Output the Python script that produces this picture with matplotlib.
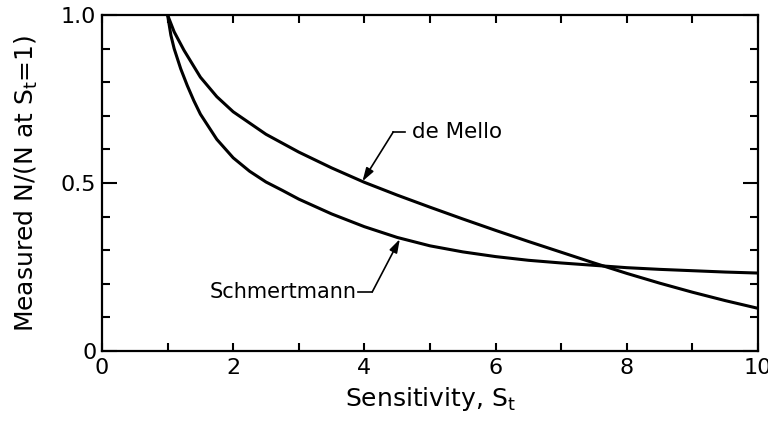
import numpy as np
import matplotlib.pyplot as plt
from matplotlib.ticker import MultipleLocator, FixedLocator

# values
s_mello = [1.0, 1.1, 1.25, 1.5, 1.75, 2.0, 2.5, 3.0, 3.5, 4.0, 4.5, 5.0,
           5.5, 6.0, 6.5, 7.0, 7.5, 8.0, 8.5, 9.0, 9.5, 10.0]
n_mello = [1.0, 0.95, 0.895, 0.815, 0.757, 0.712, 0.645, 0.592, 0.545, 0.502,
           0.464, 0.428, 0.393, 0.359, 0.326, 0.294, 0.262, 0.231, 0.202,
           0.175, 0.15, 0.127]

s_schm = [1.0, 1.05, 1.1, 1.2, 1.3, 1.4, 1.5, 1.75, 2.0, 2.25, 2.5, 2.75, 3.0,
          3.5, 4.0, 4.5, 5.0, 5.5, 6.0, 6.5, 7.0, 7.5, 8.0, 8.5, 9.0, 9.5, 10.0]
n_schm = [1.0, 0.94, 0.9, 0.84, 0.79, 0.745, 0.705, 0.63, 0.575, 0.535, 0.503,
          0.478, 0.452, 0.408, 0.37, 0.338, 0.313, 0.295, 0.281, 0.27, 0.262,
          0.255, 0.248, 0.243, 0.239, 0.235, 0.232]

x_ticks = [0, 2, 4, 6, 8, 10]
y_ticks = [0, 0.5, 1.0]
y_ticklabels = ['0', '0.5', '1.0']

plt.rcParams['font.family'] = ['DejaVu Sans']

fig = plt.figure(figsize=(7.68, 4.23), dpi=100)
ax = fig.add_axes([0.1328, 0.1702, 0.9870 - 0.1328, 0.9645 - 0.1702])

ax.plot(s_mello, n_mello, color='black', lw=2.2, solid_capstyle='round', solid_joinstyle='round')
ax.plot(s_schm, n_schm, color='black', lw=2.2, solid_capstyle='round', solid_joinstyle='round')

ax.set_xlim(0, 10)
ax.set_ylim(0, 1.0)

ax.xaxis.set_major_locator(FixedLocator(x_ticks))
ax.xaxis.set_minor_locator(MultipleLocator(1))
ax.yaxis.set_major_locator(FixedLocator(y_ticks))
ax.yaxis.set_minor_locator(MultipleLocator(0.1))
ax.set_yticklabels(y_ticklabels)

ax.tick_params(axis='x', which='both', direction='in', top=True, length=6, width=1.5,
               labelsize=16, pad=5)
ax.tick_params(axis='y', which='major', direction='in', right=True, length=11, width=1.5,
               labelsize=16, pad=4)
ax.tick_params(axis='y', which='minor', direction='in', right=True, length=6, width=1.5)
for sp in ax.spines.values():
    sp.set_linewidth(1.6)

ax.set_xlabel('Sensitivity, S$_\\mathregular{t}$', fontsize=18, labelpad=5)
ax.set_ylabel('Measured N/(N at S$_\\mathregular{t}$=1)', fontsize=18)
ax.yaxis.set_label_coords(-0.094, 0.5)

# de Mello label with leader
ax.text(4.72, 0.652, 'de Mello', fontsize=15.5, va='center', ha='left')
ax.plot([4.62, 4.44], [0.652, 0.652], color='black', lw=1.2)
ax.annotate('', xy=(3.97, 0.505), xytext=(4.44, 0.652),
            arrowprops=dict(arrowstyle='-|>,head_length=0.8,head_width=0.25',
                            color='black', lw=1.2, shrinkA=0, shrinkB=0))

# Schmertmann label with leader
ax.text(3.88, 0.176, 'Schmertmann', fontsize=15, va='center', ha='right')
ax.plot([3.9, 4.12], [0.176, 0.176], color='black', lw=1.2)
ax.annotate('', xy=(4.54, 0.333), xytext=(4.12, 0.176),
            arrowprops=dict(arrowstyle='-|>,head_length=0.8,head_width=0.25',
                            color='black', lw=1.2, shrinkA=0, shrinkB=0))

fig.savefig('out.png', dpi=100)
